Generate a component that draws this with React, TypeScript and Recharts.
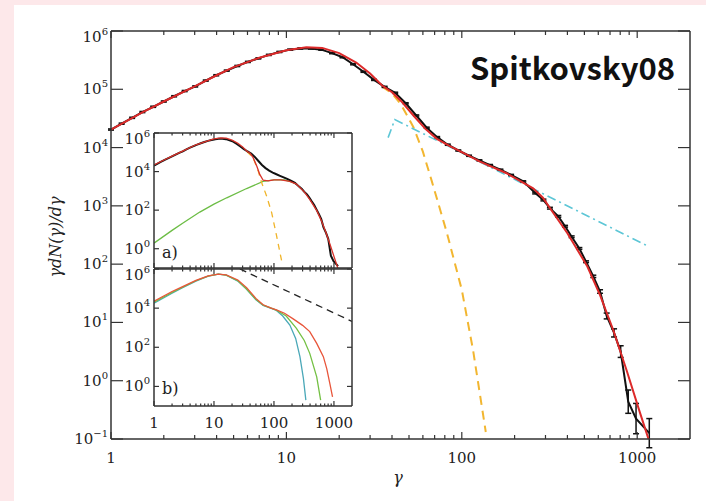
import { LineChart, Line, XAxis, YAxis, ErrorBar } from "recharts";

// binned particle spectrum gamma * dN/dgamma
const dataGamma = [1, 1.15, 1.32, 1.51, 1.74, 2.0, 2.29, 2.63, 3.02, 3.47, 3.98, 4.57, 5.25, 6.03, 6.92, 7.94, 9.12, 10.5, 12.0, 13.8, 15.8, 18.2, 20.9, 24.0, 27.5, 31.6, 36.3, 41.7, 47.9, 55.0, 63.1, 72.4, 83.2, 95.5, 110, 126, 145, 166, 191, 224, 262, 292, 318, 355, 388, 423, 468, 511, 562, 614, 670, 738, 805, 889, 985, 1172];
const dataValue = [2.04e4, 2.57e4, 3.24e4, 4.07e4, 5.01e4, 6.17e4, 7.59e4, 9.33e4, 1.12e5, 1.41e5, 1.74e5, 2.09e5, 2.51e5, 2.95e5, 3.39e5, 3.89e5, 4.37e5, 4.79e5, 5.01e5, 5.01e5, 4.79e5, 4.17e5, 3.55e5, 2.69e5, 2.0e5, 1.45e5, 1.1e5, 8.71e4, 5.75e4, 3.55e4, 2.19e4, 1.51e4, 1.12e4, 8.91e3, 7.24e3, 6.03e3, 5.01e3, 4.17e3, 3.39e3, 2.63e3, 1.66e3, 1.26e3, 912, 661, 447, 295, 186, 110, 61.7, 33.9, 12.9, 6.61, 3.16, 0.437, 0.224, 0.126];
// error half-width in decades
const dataErrDex = [0.01, 0.01, 0.01, 0.01, 0.01, 0.01, 0.01, 0.01, 0.01, 0.01, 0.01, 0.01, 0.01, 0.01, 0.01, 0.01, 0.01, 0.01, 0.01, 0.01, 0.01, 0.01, 0.01, 0.01, 0.01, 0.01, 0.01, 0.01, 0.01, 0.01, 0.01, 0.01, 0.01, 0.01, 0.01, 0.01, 0.01, 0.01, 0.01, 0.01, 0.015, 0.015, 0.015, 0.015, 0.015, 0.015, 0.015, 0.015, 0.02, 0.03, 0.05, 0.07, 0.1, 0.2, 0.26, 0.25];

// Maxwellian + power law fit
const fitGamma = [1, 1.5, 2, 3, 4, 5, 7, 10, 13, 16, 20, 25, 30, 35, 40, 45, 53, 62, 72, 86, 100, 127, 180, 255, 290, 320, 400, 520, 614, 730, 870, 1040, 1250];
const fitValue = [2.04e4, 3.98e4, 6.17e4, 1.12e5, 1.74e5, 2.4e5, 3.47e5, 4.68e5, 5.25e5, 5.13e5, 4.17e5, 2.88e5, 1.86e5, 1.17e5, 8.91e4, 6.31e4, 3.55e4, 2.09e4, 1.41e4, 1.05e4, 8.32e3, 5.75e3, 3.63e3, 2.0e3, 1.38e3, 891, 339, 91.2, 29.5, 7.41, 1.51, 0.275, 0.05];

const maxwellGamma = [35, 40, 45, 53, 60, 67.5, 82, 100, 116, 137];
const maxwellValue = [1.12e5, 8.51e4, 5.5e4, 2.24e4, 8.51e3, 2.63e3, 355, 36.3, 3.31, 0.132];

const powerGamma = [38, 41.5, 100, 290, 1150];
const powerValue = [1.48e4, 3.02e4, 8.13e3, 1.62e3, 204];

// inset a: two-component fit
const aFitGamma = [1, 1.5, 2, 3, 5, 7, 10, 13, 16, 20, 25, 30, 35, 40, 45, 52, 58, 66, 80, 100, 130, 184, 237, 320, 400, 520, 614, 730, 870, 1040, 1250];
const aFitValue = [2.2e4, 4.1e4, 6.3e4, 1.14e5, 2.45e5, 3.5e5, 4.9e5, 5.6e5, 5.4e5, 4.3e5, 2.95e5, 1.9e5, 1.17e5, 8.9e4, 5.25e4, 1.82e4, 7.1e3, 3.55e3, 3.31e3, 3.72e3, 3.72e3, 3.09e3, 2.24e3, 891, 339, 91.2, 29.5, 7.41, 1.51, 0.275, 0.05];
const aHotGamma = [1, 2, 3, 5.8, 10, 16.3, 35, 66, 100, 150, 200, 237];
const aHotValue = [1.95, 8.9, 20.9, 79.4, 204, 437, 1.32e3, 3.09e3, 3.72e3, 3.72e3, 2.82e3, 2.24e3];
const aColdGamma = [35, 45, 55, 62, 75, 91.5, 110, 134];
const aColdValue = [1.12e5, 5.25e4, 1.0e4, 2.82e3, 562, 74.1, 5.01, 0.24];

// inset b: spectra at three times
const bGamma = [1, 2, 3, 5, 8, 11.8, 16, 25, 35, 50, 66, 90, 110];
const bLateValue = [2.24e4, 7.08e4, 1.26e5, 2.63e5, 4.47e5, 5.5e5, 5.01e5, 2.75e5, 1.12e5, 3.16e4, 1.48e4, 1.0e4, 8.13e3];
const bMidValue = [2.0e4, 6.31e4, 1.17e5, 2.51e5, 4.37e5, 5.5e5, 4.9e5, 2.51e5, 9.55e4, 2.82e4, 1.41e4, 1.0e4, 7.94e3];
const bEarlyValue = [1.78e4, 5.75e4, 1.1e5, 2.4e5, 4.27e5, 5.5e5, 4.9e5, 2.4e5, 9.12e4, 2.69e4, 1.38e4, 9.77e3, 7.59e3];
const bLateTailGamma = [150, 209, 300, 395, 516, 666, 760, 855, 947];
const bLateTailValue = [5.5e3, 2.82e3, 1.32e3, 631, 158, 33.1, 7.94, 1.41, 0.295];
const bMidTailGamma = [160, 237, 320, 395, 516, 600];
const bMidTailValue = [3.98e3, 933, 224, 49, 3.09, 0.2];
const bEarlyTailGamma = [140, 184, 230, 271, 310, 340];
const bEarlyTailValue = [3.98e3, 1.38e3, 282, 33.1, 2.51, 0.2];
const bSlopeGamma = [27, 2000];
const bSlopeValue = [1e6, 2.1e3];

const xMajor = [1, 10, 100, 1000];
const xMinor = [2, 3, 4, 5, 6, 7, 8, 9, 20, 30, 40, 50, 60, 70, 80, 90, 200, 300, 400, 500, 600, 700, 800, 900];
const yMain = [0.1, 1, 10, 100, 1e3, 1e4, 1e5, 1e6];
const yInset = [1, 100, 1e4, 1e6];

const xTicks = [...xMajor, ...xMinor].sort((a, b) => a - b);
const INK = "#333";
const serif = "'DejaVu Serif', serif";
const frame = { stroke: INK, strokeWidth: 1.5 };

const pts = (xs: number[], ys: number[]) => xs.map((x, i) => ({ x, y: ys[i] }));
const spectrum = dataGamma.map((x, i) => {
  const y = dataValue[i];
  const d = dataErrDex[i];
  return { x, y, err: [y - y * Math.pow(10, -d), y * Math.pow(10, d) - y] };
});

const expText = (v: number) => {
  const e = Math.round(Math.log10(v));
  return e < 0 ? `\u2212${-e}` : `${e}`;
};

// dir 1 = bottom axis (tick points up), -1 = top axis
const xTick = (dir: number, major: number, minor: number, labelDy?: number) => (p: any) => {
  const { x, y, payload } = p;
  const big = xMajor.includes(payload.value);
  return (
    <g>
      <line x1={x} x2={x} y1={y} y2={y - dir * (big ? major : minor)} stroke={INK} strokeWidth={1.2} />
      {labelDy !== undefined && big && (
        <text x={x} y={y + labelDy} textAnchor="middle" fontFamily={serif} fontSize={15} fill="#222">
          {payload.value}
        </text>
      )}
    </g>
  );
};

// dir 1 = left axis (tick points right), -1 = right axis
const yTick = (dir: number, len: number, labelDx?: number, topValue?: number) => (p: any) => {
  const { x, y, payload } = p;
  const shift = payload.value === topValue ? 6 : 0;
  return (
    <g>
      <line x1={x} x2={x + dir * len} y1={y} y2={y} stroke={INK} strokeWidth={1.2} />
      {labelDx !== undefined && (
        <text x={x - labelDx} y={y + 5 + shift} textAnchor="end" fontFamily={serif} fontSize={15} fill="#222">
          <tspan>10</tspan>
          <tspan dy={-7} fontSize={10}>{expText(payload.value)}</tspan>
        </text>
      )}
    </g>
  );
};

type Series = { data: { x: number; y: number }[]; stroke: string; width?: number; dash?: string };

// invisible series bound to the top and right axes
const anchor = pts([1, 2000], [0.1, 1e6]);

const InsetPanel = ({ plotTop, plotH, lines, labels }: { plotTop: number; plotH: number; lines: Series[]; labels: boolean }) => {
  const axisH = labels ? 30 : 0;
  const pad = 12;
  return (
    <div style={{ position: "absolute", left: 94, top: plotTop - pad }}>
      <LineChart width={262} height={plotH + axisH + pad} margin={{ top: pad - 1, right: 3, left: 0, bottom: 0 }}>
        <XAxis xAxisId="b" type="number" dataKey="x" scale="log" domain={[1, 2000]} allowDataOverflow ticks={xTicks} interval={0}
          height={Math.max(axisH, 1)} tickSize={0} tickMargin={0} tickLine={false} axisLine={frame}
          tick={xTick(1, 5, 2.5, labels ? 22 : undefined)} />
        <XAxis xAxisId="t" orientation="top" type="number" dataKey="x" scale="log" domain={[1, 2000]} allowDataOverflow ticks={xTicks} interval={0}
          height={1} tickSize={0} tickMargin={0} tickLine={false} axisLine={frame} tick={xTick(-1, 5, 2.5)} />
        <YAxis yAxisId="l" type="number" scale="log" domain={[0.1, 1e6]} allowDataOverflow ticks={yInset} interval={0}
          width={60} tickSize={0} tickMargin={0} tickLine={false} axisLine={frame} tick={yTick(1, 5, 4, 1e6)} />
        <YAxis yAxisId="r" orientation="right" type="number" scale="log" domain={[0.1, 1e6]} allowDataOverflow ticks={yInset} interval={0}
          width={1} tickSize={0} tickMargin={0} tickLine={false} axisLine={frame} tick={yTick(-1, 5)} />
        <Line xAxisId="t" yAxisId="r" data={anchor} dataKey="y" stroke="none" dot={false} activeDot={false} isAnimationActive={false} />
        {lines.map((s, i) => (
          <Line key={i} xAxisId="b" yAxisId="l" data={s.data} dataKey="y" type="linear" stroke={s.stroke}
            strokeWidth={s.width ?? 1.3} strokeDasharray={s.dash} dot={false} activeDot={false} isAnimationActive={false} />
        ))}
      </LineChart>
    </div>
  );
};

const insetA: Series[] = [
  { data: pts(aHotGamma, aHotValue), stroke: "#6cbd45" },
  { data: pts(aColdGamma, aColdValue), stroke: "#f0b429", dash: "6 5" },
  { data: pts(dataGamma, dataValue), stroke: "#111", width: 2 },
  { data: pts(aFitGamma, aFitValue), stroke: "#d9332b" },
];

const insetB: Series[] = [
  { data: pts(bSlopeGamma, bSlopeValue), stroke: "#222", dash: "7 5" },
  { data: [...pts(bGamma, bEarlyValue), ...pts(bEarlyTailGamma, bEarlyTailValue)], stroke: "#4aa8b8" },
  { data: [...pts(bGamma, bMidValue), ...pts(bMidTailGamma, bMidTailValue)], stroke: "#74c044" },
  { data: [...pts(bGamma, bLateValue), ...pts(bLateTailGamma, bLateTailValue)], stroke: "#e8553a" },
];

export default function App() {
  return (
    <div style={{ position: "absolute", left: 0, top: 0, width: 706, height: 501, background: "#fde8ea", overflow: "hidden" }}>
      <div style={{ position: "absolute", left: 14, top: 5, right: 0, bottom: 0, background: "#fff" }} />
      <div style={{ position: "absolute", left: 0, top: 0 }}>
        <LineChart width={706} height={501} margin={{ top: 30, right: 15, left: 0, bottom: 0 }}>
          <XAxis xAxisId="b" type="number" dataKey="x" scale="log" domain={[1, 2000]} allowDataOverflow ticks={xTicks} interval={0}
            height={62} tickSize={0} tickMargin={0} tickLine={false} axisLine={frame} tick={xTick(1, 7, 4, 24)} />
          <XAxis xAxisId="t" orientation="top" type="number" dataKey="x" scale="log" domain={[1, 2000]} allowDataOverflow ticks={xTicks} interval={0}
            height={1} tickSize={0} tickMargin={0} tickLine={false} axisLine={frame} tick={xTick(-1, 7, 4)} />
          <YAxis yAxisId="l" type="number" scale="log" domain={[0.1, 1e6]} allowDataOverflow ticks={yMain} interval={0}
            width={111} tickSize={0} tickMargin={0} tickLine={false} axisLine={frame} tick={yTick(1, 12, 3, 1e6)} />
          <YAxis yAxisId="r" orientation="right" type="number" scale="log" domain={[0.1, 1e6]} allowDataOverflow ticks={yMain} interval={0}
            width={1} tickSize={0} tickMargin={0} tickLine={false} axisLine={frame} tick={yTick(-1, 12)} />
          <Line xAxisId="t" yAxisId="r" data={anchor} dataKey="y" stroke="none" dot={false} activeDot={false} isAnimationActive={false} />
          <Line xAxisId="b" yAxisId="l" data={pts(maxwellGamma, maxwellValue)} dataKey="y" stroke="#f2b630" strokeWidth={2}
            strokeDasharray="9 6" dot={false} activeDot={false} isAnimationActive={false} />
          <Line xAxisId="b" yAxisId="l" data={pts(powerGamma, powerValue)} dataKey="y" stroke="#5cc6d6" strokeWidth={1.6}
            strokeDasharray="9 4 2 4" dot={false} activeDot={false} isAnimationActive={false} />
          <Line xAxisId="b" yAxisId="l" data={spectrum} dataKey="y" stroke="#111" strokeWidth={2}
            dot={false} activeDot={false} isAnimationActive={false}>
            <ErrorBar dataKey="err" width={3} strokeWidth={1.5} stroke="#111" direction="y" />
          </Line>
          <Line xAxisId="b" yAxisId="l" data={pts(fitGamma, fitValue)} dataKey="y" stroke="#dd2a2a" strokeWidth={2}
            dot={false} activeDot={false} isAnimationActive={false} />
        </LineChart>
      </div>

      <div style={{ position: "absolute", left: 154, top: 133, width: 198, height: 273, background: "#fff" }} />
      <InsetPanel plotTop={133} plotH={136} lines={insetA} labels={false} />
      <InsetPanel plotTop={269} plotH={137} lines={insetB} labels={true} />

      <svg width={706} height={501} style={{ position: "absolute", left: 0, top: 0, pointerEvents: "none" }}>
        <text x={470} y={80} fontFamily="'Noto Sans CJK JP', 'Noto Sans', sans-serif" fontWeight={700} fontSize={31} fill="#111">
          Spitkovsky08
        </text>
        <text transform="translate(61,237) rotate(-90)" textAnchor="middle" fontFamily={serif} fontStyle="italic" fontSize={16} fill="#222">
          γdN(γ)/dγ
        </text>
        <text x={398} y={483} textAnchor="middle" fontFamily={serif} fontStyle="italic" fontSize={16} fill="#222">γ</text>
        <text x={162} y={258} fontFamily={serif} fontSize={16} fill="#222">a)</text>
        <text x={162} y={394} fontFamily={serif} fontSize={16} fill="#222">b)</text>
      </svg>
    </div>
  );
}
